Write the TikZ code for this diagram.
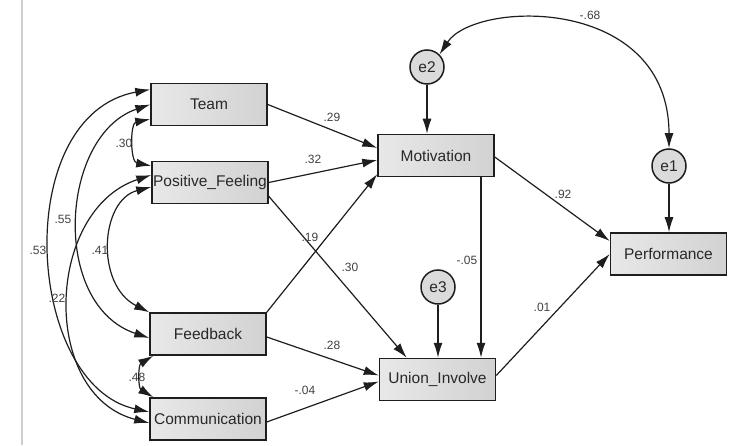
\documentclass[tikz,border=0pt]{standalone}
\usepackage{fontspec}
\setmainfont{Liberation Sans}
\usetikzlibrary{arrows.meta,calc}
\definecolor{LineClr}{RGB}{30,30,30}
\definecolor{TextClr}{RGB}{40,40,40}
\definecolor{CoefClr}{RGB}{65,65,65}
\definecolor{BoxLClr}{RGB}{232,232,232}
\definecolor{BoxRClr}{RGB}{210,210,210}
\definecolor{RuleClr}{RGB}{205,205,205}

\begin{document}
\begin{tikzpicture}[x=1pt,y=1pt,
  var/.style={draw=LineClr,line width=1.5pt,left color=BoxLClr,right color=BoxRClr,
    minimum width=116pt,minimum height=42pt,inner sep=0pt,text=TextClr,
    font=\fontsize{15.5}{18}\selectfont},
  err/.style={circle,draw=LineClr,line width=1.5pt,fill=BoxRClr!80!white,minimum size=34pt,
    inner sep=0pt,text=TextClr,font=\fontsize{15.5}{18}\selectfont},
  reg/.style={draw=LineClr,line width=1.2pt,-{Latex[length=15pt,width=9pt]}},
  cov/.style={draw=LineClr,line width=1.2pt,{Latex[length=15pt,width=9pt]}-{Latex[length=15pt,width=9pt]}},
  coef/.style={text=CoefClr,font=\fontsize{12}{14}\selectfont,inner sep=0pt}]
\useasboundingbox (0,0) rectangle (744,445);
\draw[RuleClr,line width=2pt] (22,0) -- (22,445);

\node[var] (Team) at (209,340.5) {Team};
\node[var] (Positive) at (210,262.5) {Positive\_Feeling};
\node[var] (Feedback) at (208,111) {Feedback};
\node[var] (Communication) at (208,26) {Communication};
\node[var] (Motivation) at (436,289.5) {Motivation};
\node[var] (Union) at (437.5,65.5) {Union\_Involve};
\node[var] (Performance) at (668.5,191) {Performance};
\node[err] (e2) at (427,378) {e2};
\node[err] (e1) at (669,279) {e1};
\node[err] (e3) at (438,158) {e3};

\draw[reg] (Team.east) -- ([yshift=7.5pt]Motivation.west);
\draw[reg] (Positive.east) -- ([yshift=-4.5pt]Motivation.west);
\draw[reg] (Feedback.north east) -- ([yshift=3pt]Motivation.south west);
\draw[reg] ([yshift=8pt]Positive.south east) -- ([xshift=28pt]Union.north west);
\draw[reg] ([yshift=-3pt]Feedback.east) -- ([yshift=4pt]Union.west);
\draw[reg] ([yshift=-3pt]Communication.east) -- ([yshift=-2pt]Union.west);
\draw[reg] (e3) -- (e3 |- Union.north);
\draw[reg] ([xshift=45pt]Motivation.south) -- ([xshift=45pt]Motivation.south |- Union.north);
\draw[reg] ([yshift=-1.5pt]Motivation.east) -- ([yshift=13pt]Performance.west);
\draw[reg] ([yshift=4pt]Union.east) -- (Performance.west);
\draw[reg] (e1) -- (e1 |- Performance.north);
\draw[reg] (e2) -- (e2 |- Motivation.north);

\draw[cov] (e2.45) .. controls (475,445) and (669,450) .. (e1.north);
\draw[cov] ([yshift=7pt]Team.south west) .. controls (130,322) and (130,283) .. ([yshift=-5pt]Positive.north west);
\draw[cov] (Team.west) .. controls (60,310) and (50,140) .. ([yshift=-4pt]Feedback.west);
\draw[cov] ([yshift=15pt]Team.west) .. controls (10,330) and (25,60) .. ([yshift=7pt]Communication.west);
\draw[cov] ([yshift=-4.5pt]Positive.west) .. controls (100,245) and (95,160) .. (Feedback.north west);
\draw[cov] ([yshift=7.5pt]Positive.west) .. controls (45,235) and (40,50) .. ([yshift=-4pt]Communication.west);
\draw[cov] ([xshift=4pt]Feedback.south west) .. controls (138,80) and (138,57) .. ([xshift=4pt]Communication.north west);

\node[coef] (cTM) at (332,328) {.29};
\node[coef] (cPM) at (313,286) {.32};
\node[coef] (cFM) at (310,208) {.19};
\node[coef] (cPU) at (350,178) {.30};
\node[coef] (cFU) at (332,100) {.28};
\node[coef] (cCU) at (305,55) {-.04};
\node[coef] (cMU) at (467,185) {-.05};
\node[coef] (cMP) at (563,251) {.92};
\node[coef] (cUP) at (542,138) {.01};
\node[coef] (cE) at (590,430) {-.68};
\node[coef] (cTP) at (124,302) {.30};
\node[coef] (cTF) at (63,226) {.55};
\node[coef] (cTC) at (38,195) {.53};
\node[coef] (cPF) at (100,195) {.41};
\node[coef] (cPC) at (57,147) {.22};
\node[coef] (cFC) at (137,68) {.48};
\end{tikzpicture}
\end{document}
